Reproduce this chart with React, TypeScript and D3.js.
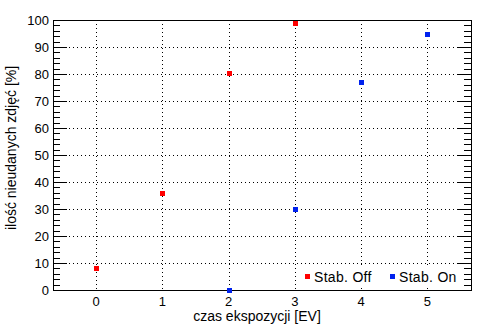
import React from "react";
import * as d3 from "d3";

const offX = [0, 1, 2, 3];
const offY = [8, 36, 80.5, 99];
const onX = [2, 3, 4, 5];
const onY = [0, 30, 77, 95];
const xTicks = [0, 1, 2, 3, 4, 5];
const yTicks = [0, 10, 20, 30, 40, 50, 60, 70, 80, 90, 100];
const legendLabels = ["Stab. Off", "Stab. On"];
const colors = ["#ff0000", "#0022ee"];

export default function App() {
  const W = 494, H = 331;
  const L = 53, R = 471, T = 20, B = 290;
  const x = d3.scaleLinear().domain([-0.65, 5.66]).range([L, R]);
  const y = d3.scaleLinear().domain([0, 100]).range([B, T]);
  const minor = d3.range(0, 101, 2).filter((v) => v % 10 !== 0);
  const font = "Liberation Sans, Arial, sans-serif";
  const sq = 5;
  return (
    <svg width={W} height={H} style={{ position: "absolute", left: 0, top: 0, background: "#fff" }}>
      <rect x={0} y={0} width={W} height={H} fill="#fff" />
      {yTicks.filter((v) => v > 0 && v < 100).map((v) => (
        <line key={"gy" + v} x1={L} x2={R} y1={y(v) + 0.5} y2={y(v) + 0.5} stroke="#000" strokeDasharray="1,3" shapeRendering="crispEdges" />
      ))}
      {xTicks.map((v) => (
        <line key={"gx" + v} x1={Math.round(x(v)) + 0.5} x2={Math.round(x(v)) + 0.5} y1={T} y2={B} stroke="#000" strokeDasharray="1,3" shapeRendering="crispEdges" />
      ))}
      {yTicks.map((v) => (
        <g key={"t" + v}>
          <line x1={L} x2={L + 14} y1={y(v) + 0.5} y2={y(v) + 0.5} stroke="#000" shapeRendering="crispEdges" />
          <line x1={R - 14} x2={R} y1={y(v) + 0.5} y2={y(v) + 0.5} stroke="#000" shapeRendering="crispEdges" />
        </g>
      ))}
      {minor.map((v) => (
        <g key={"m" + v}>
          <line x1={L} x2={L + 7} y1={y(v) + 0.5} y2={y(v) + 0.5} stroke="#000" shapeRendering="crispEdges" />
          <line x1={R - 7} x2={R} y1={y(v) + 0.5} y2={y(v) + 0.5} stroke="#000" shapeRendering="crispEdges" />
        </g>
      ))}
      <rect x={300} y={266} width={164} height={22} fill="#fff" />
      <rect x={L + 0.5} y={T + 0.5} width={R - L} height={B - T} fill="none" stroke="#000" strokeWidth={1.5} shapeRendering="crispEdges" />
      {yTicks.map((v) => (
        <text key={"yl" + v} x={49} y={y(v) + 4.5} textAnchor="end" fontFamily={font} fontSize={13} fill="#000">{v}</text>
      ))}
      {xTicks.map((v) => (
        <text key={"xl" + v} x={x(v)} y={306} textAnchor="middle" fontFamily={font} fontSize={13} fill="#000">{v}</text>
      ))}
      <text x={257} y={321} textAnchor="middle" fontFamily={font} fontSize={14} fill="#000">czas ekspozycji [EV]</text>
      <text transform={`translate(16,148) rotate(-90)`} textAnchor="middle" fontFamily={font} fontSize={14} fill="#000">ilość nieudanych zdjęć [%]</text>
      {offX.map((v, i) => (
        <rect key={"o" + i} x={Math.round(x(v)) - 2} y={Math.round(y(offY[i])) - 2} width={sq} height={sq} fill={colors[0]} />
      ))}
      {onX.map((v, i) => (
        <rect key={"n" + i} x={Math.round(x(v)) - 2} y={Math.round(y(onY[i])) - 2} width={sq} height={sq} fill={colors[1]} />
      ))}
      {legendLabels.map((lab, i) => (
        <g key={"lg" + i}>
          <rect x={305 + i * 85} y={274} width={sq} height={sq} fill={colors[i]} />
          <text x={314 + i * 85} y={282} fontFamily={font} fontSize={14} letterSpacing={0.3} fill="#000">{lab}</text>
        </g>
      ))}
    </svg>
  );
}
